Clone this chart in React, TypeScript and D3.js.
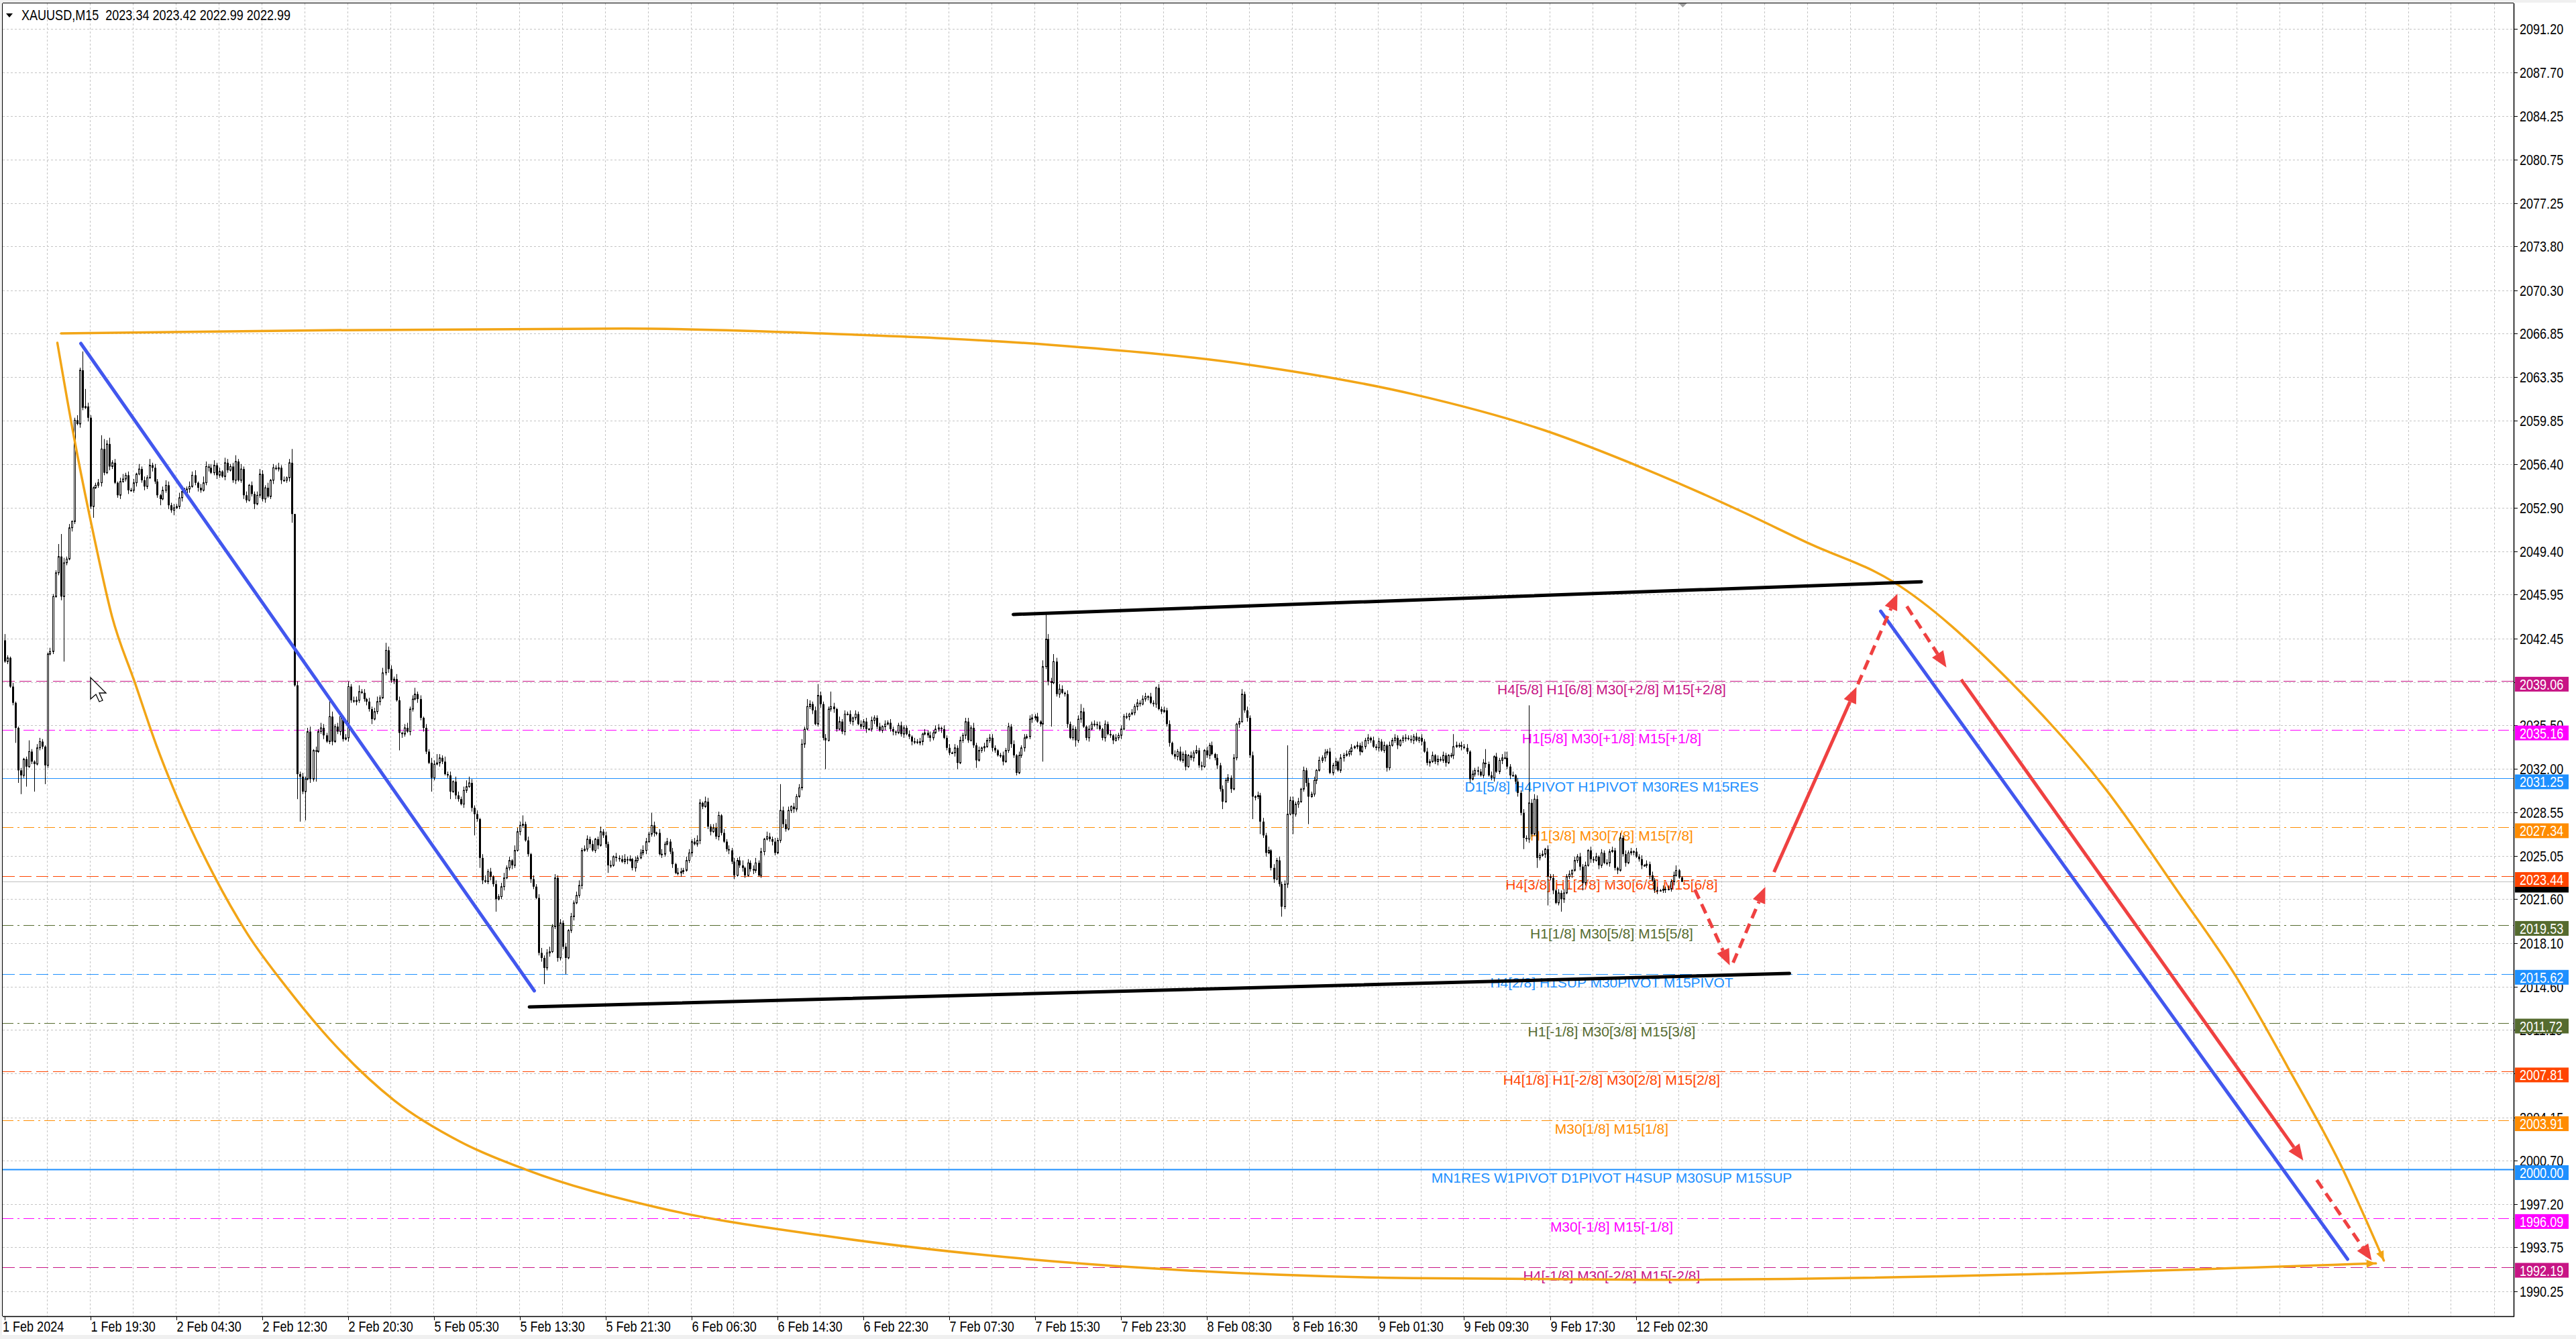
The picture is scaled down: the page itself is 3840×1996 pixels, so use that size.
import React from 'react';
import * as d3 from 'd3';

// ---------------- data ----------------
const symbolHeader = 'XAUUSD,M15  2023.34 2023.42 2022.99 2022.99';
const firstOpen = 2042.3;

// M15 closes, bar 0 .. 625 (16 per row)
const closes: number[] = [
  2040.6, 2040.9, 2038.6, 2037.3, 2035.3, 2031.9, 2031.5, 2032.8, 2032.2, 2033.4, 2032.6, 2032.4, 2033.7, 2034.2, 2033.8, 2032.3,
  2041.2, 2041.4, 2045.8, 2047.7, 2049.0, 2045.8, 2048.5, 2048.8, 2051.3, 2051.8, 2059.9, 2059.6, 2063.9, 2060.9, 2061.0, 2060.1,
  2053.0, 2054.5, 2054.7, 2054.9, 2057.6, 2055.7, 2058.0, 2056.2, 2056.5, 2054.9, 2053.9, 2055.0, 2055.2, 2055.5, 2054.3, 2054.3,
  2054.9, 2055.6, 2056.0, 2055.1, 2054.6, 2055.3, 2056.3, 2056.1, 2055.0, 2053.9, 2053.6, 2054.3, 2054.7, 2053.1, 2052.7, 2052.9,
  2053.0, 2053.7, 2054.2, 2054.1, 2054.4, 2054.6, 2055.5, 2054.9, 2054.5, 2054.3, 2054.9, 2056.2, 2056.1, 2055.7, 2056.3, 2055.5,
  2055.8, 2055.4, 2056.5, 2055.9, 2056.2, 2055.1, 2056.6, 2055.1, 2056.0, 2053.9, 2053.5, 2054.7, 2054.0, 2053.2, 2053.9, 2055.6,
  2053.6, 2054.5, 2053.8, 2055.1, 2056.1, 2056.0, 2056.1, 2055.1, 2055.1, 2055.3, 2056.5, 2052.4, 2038.7, 2031.6, 2031.4, 2030.2,
  2031.2, 2035.0, 2031.2, 2033.5, 2033.4, 2035.0, 2035.3, 2034.7, 2034.2, 2036.2, 2034.2, 2035.4, 2035.0, 2036.2, 2034.4, 2034.5,
  2038.6, 2037.5, 2037.4, 2037.5, 2038.2, 2038.1, 2037.6, 2037.4, 2036.8, 2036.0, 2036.6, 2037.4, 2037.7, 2039.7, 2041.5, 2040.0,
  2039.1, 2039.2, 2037.5, 2034.9, 2034.8, 2035.3, 2035.0, 2036.8, 2037.6, 2038.0, 2037.6, 2036.1, 2035.3, 2033.4, 2032.5, 2031.3,
  2032.4, 2032.5, 2032.9, 2032.6, 2031.6, 2031.5, 2030.2, 2031.0, 2029.9, 2029.6, 2029.2, 2030.3, 2030.6, 2030.9, 2028.9, 2028.4,
  2028.0, 2024.9, 2023.1, 2023.0, 2023.8, 2023.4, 2022.8, 2021.6, 2021.8, 2022.6, 2023.3, 2024.1, 2024.7, 2024.3, 2025.5, 2027.0,
  2027.5, 2027.6, 2026.3, 2025.2, 2023.2, 2022.6, 2021.7, 2017.3, 2016.9, 2016.1, 2017.3, 2017.4, 2019.4, 2023.3, 2016.9, 2019.7,
  2017.8, 2016.9, 2019.1, 2020.2, 2021.3, 2021.9, 2022.7, 2025.5, 2025.6, 2026.4, 2026.0, 2025.5, 2026.4, 2025.9, 2027.0, 2026.7,
  2026.0, 2024.3, 2024.3, 2025.0, 2024.9, 2024.8, 2024.6, 2024.8, 2024.7, 2024.8, 2024.1, 2024.7, 2024.9, 2025.3, 2025.5, 2026.2,
  2026.8, 2027.5, 2026.9, 2026.9, 2025.2, 2025.2, 2026.0, 2026.2, 2025.4, 2024.4, 2023.7, 2023.7, 2023.8, 2023.9, 2024.7, 2025.3,
  2026.2, 2026.0, 2026.3, 2029.3, 2029.0, 2029.4, 2027.4, 2027.0, 2027.3, 2026.6, 2028.3, 2026.9, 2026.2, 2025.6, 2025.5, 2024.6,
  2023.5, 2024.7, 2024.3, 2024.1, 2023.5, 2024.5, 2024.0, 2023.9, 2024.5, 2023.5, 2025.4, 2026.4, 2026.6, 2026.4, 2026.2, 2025.3,
  2026.3, 2028.7, 2027.6, 2027.2, 2028.7, 2029.0, 2028.8, 2029.8, 2030.5, 2034.0, 2035.2, 2037.0, 2037.2, 2036.7, 2035.6, 2037.9,
  2037.2, 2034.5, 2034.3, 2036.8, 2037.0, 2036.8, 2035.2, 2035.8, 2035.0, 2036.4, 2036.4, 2035.8, 2036.1, 2036.4, 2035.6, 2035.4,
  2035.8, 2035.2, 2035.2, 2035.9, 2036.1, 2035.4, 2035.1, 2035.4, 2035.6, 2035.7, 2035.2, 2035.0, 2034.9, 2035.5, 2034.8, 2035.3,
  2034.8, 2034.6, 2034.2, 2034.2, 2034.1, 2034.2, 2034.8, 2034.9, 2034.7, 2034.5, 2034.9, 2035.2, 2035.3, 2035.2, 2034.5, 2033.7,
  2033.3, 2033.3, 2033.7, 2032.5, 2034.3, 2034.7, 2035.8, 2034.3, 2035.3, 2033.9, 2032.7, 2033.5, 2033.7, 2033.8, 2034.3, 2034.5,
  2033.7, 2033.5, 2033.1, 2033.1, 2032.6, 2033.5, 2035.4, 2034.0, 2033.1, 2031.7, 2033.1, 2033.7, 2034.5, 2034.6, 2036.0, 2036.1,
  2036.2, 2035.8, 2035.6, 2040.2, 2042.4, 2039.0, 2038.9, 2040.6, 2038.0, 2038.4, 2038.1, 2038.0, 2035.6, 2034.5, 2035.2, 2034.3,
  2036.0, 2036.6, 2035.4, 2034.5, 2035.2, 2035.6, 2035.6, 2035.5, 2035.2, 2034.5, 2035.6, 2034.8, 2034.7, 2034.3, 2034.5, 2034.7,
  2035.2, 2036.2, 2036.2, 2036.4, 2036.5, 2037.0, 2037.3, 2037.2, 2037.6, 2037.8, 2037.8, 2037.3, 2037.2, 2038.5, 2036.8, 2036.6,
  2036.7, 2035.6, 2034.1, 2033.2, 2033.0, 2033.4, 2032.7, 2033.2, 2032.2, 2033.1, 2032.9, 2033.3, 2033.5, 2032.3, 2032.2, 2033.5,
  2033.1, 2033.9, 2033.2, 2032.9, 2032.3, 2030.4, 2029.4, 2031.1, 2031.3, 2030.4, 2032.9, 2035.6, 2035.8, 2038.0, 2036.7, 2036.1,
  2033.1, 2029.8, 2029.8, 2029.9, 2027.8, 2026.7, 2025.3, 2025.5, 2024.1, 2023.2, 2024.7, 2022.8, 2021.0, 2022.8, 2028.4, 2029.5,
  2028.4, 2029.2, 2029.4, 2030.4, 2031.9, 2030.9, 2029.8, 2030.0, 2031.1, 2031.9, 2032.7, 2032.9, 2033.3, 2033.4, 2031.7, 2032.3,
  2032.6, 2031.9, 2032.9, 2033.1, 2033.2, 2033.4, 2033.7, 2033.8, 2033.9, 2033.4, 2033.8, 2034.3, 2034.5, 2034.3, 2033.8, 2033.7,
  2034.2, 2033.5, 2033.9, 2032.1, 2033.9, 2034.3, 2034.5, 2033.9, 2034.3, 2034.5, 2034.5, 2034.4, 2034.3, 2034.6, 2034.3, 2034.5,
  2034.2, 2033.4, 2032.5, 2032.6, 2033.1, 2032.6, 2032.8, 2032.7, 2033.1, 2032.5, 2033.1, 2033.1, 2033.8, 2033.9, 2033.9, 2033.8,
  2033.7, 2033.4, 2031.2, 2031.6, 2031.9, 2031.8, 2031.5, 2032.5, 2032.4, 2031.5, 2031.3, 2033.0, 2031.8, 2032.7, 2032.9, 2032.9,
  2032.2, 2031.5, 2031.5, 2031.0, 2030.1, 2028.5, 2026.5, 2026.4, 2029.3, 2026.8, 2029.6, 2024.9, 2025.1, 2025.2, 2025.6, 2023.4,
  2023.3, 2022.3, 2021.3, 2022.1, 2021.6, 2022.1, 2023.4, 2023.6, 2023.9, 2024.7, 2025.0, 2024.2, 2022.9, 2024.3, 2025.5, 2024.8,
  2024.7, 2025.0, 2024.3, 2025.3, 2024.5, 2024.5, 2025.4, 2025.5, 2024.1, 2023.9, 2026.5, 2025.2, 2024.5, 2025.3, 2025.4, 2025.4,
  2025.0, 2024.8, 2024.3, 2024.3, 2024.4, 2023.5, 2023.1, 2022.3, 2022.3, 2022.3, 2022.4, 2022.4, 2022.4, 2023.0, 2023.5, 2023.9,
  2023.34, 2022.99,
];

// upper / lower shadow beyond the body, in tenths of a dollar
const wickUpTenths: number[] = [
  5, 2, 1, 3, 1, 1, 2, 1, 2, 9, 2, 1, 3, 3, 2, 1,
  1, 3, 2, 2, 10, 18, 4, 2, 3, 1, 2, 4, 2, 15, 14, 3,
  2, 1, 2, 3, 11, 8, 3, 5, 2, 3, 1, 3, 4, 2, 3, 2,
  3, 1, 4, 2, 3, 2, 5, 2, 3, 2, 1, 3, 4, 3, 2, 3,
  2, 4, 1, 3, 2, 4, 3, 4, 1, 3, 5, 4, 2, 3, 4, 2,
  3, 1, 4, 3, 2, 3, 5, 2, 4, 2, 3, 1, 3, 2, 3, 4,
  3, 2, 4, 1, 3, 2, 4, 2, 3, 1, 3, 11, 0, 3, 2, 3,
  2, 3, 4, 1, 3, 2, 4, 3, 2, 13, 4, 2, 3, 4, 1, 3,
  4, 2, 3, 3, 5, 2, 3, 1, 3, 2, 3, 4, 2, 4, 6, 3,
  3, 2, 4, 3, 1, 3, 4, 2, 3, 5, 2, 3, 1, 3, 2, 4,
  3, 7, 3, 2, 4, 2, 3, 1, 4, 3, 2, 3, 5, 5, 3, 2,
  3, 1, 3, 4, 2, 3, 1, 3, 2, 3, 4, 2, 3, 1, 4, 3,
  3, 7, 2, 3, 1, 3, 2, 3, 4, 2, 3, 4, 2, 3, 2, 3,
  2, 3, 1, 3, 2, 3, 4, 2, 3, 3, 2, 3, 1, 2, 4, 2,
  3, 2, 4, 1, 3, 2, 3, 4, 2, 3, 1, 3, 2, 3, 4, 3,
  2, 10, 3, 1, 3, 4, 2, 3, 2, 3, 1, 4, 3, 2, 3, 3,
  2, 3, 4, 3, 1, 4, 3, 2, 3, 4, 3, 1, 3, 2, 3, 2,
  3, 2, 3, 4, 1, 3, 2, 3, 4, 2, 3, 1, 4, 3, 2, 3,
  2, 21, 3, 4, 3, 1, 3, 2, 3, 4, 2, 6, 3, 2, 3, 9,
  3, 2, 3, 2, 12, 3, 1, 4, 2, 3, 2, 3, 1, 3, 2, 3,
  2, 3, 1, 3, 2, 2, 3, 1, 3, 2, 3, 2, 1, 2, 3, 2,
  2, 3, 1, 3, 2, 3, 1, 3, 2, 3, 2, 3, 3, 1, 3, 2,
  3, 1, 3, 2, 3, 2, 3, 3, 2, 4, 2, 3, 1, 3, 2, 3,
  3, 2, 1, 2, 3, 2, 3, 2, 3, 1, 3, 2, 3, 2, 3, 3,
  2, 3, 1, 5, 20, 4, 3, 6, 3, 4, 3, 1, 3, 2, 3, 2,
  3, 6, 3, 1, 3, 2, 3, 2, 3, 1, 3, 2, 3, 1, 3, 2,
  3, 2, 3, 1, 3, 2, 3, 2, 3, 3, 1, 3, 2, 1, 3, 2,
  3, 2, 3, 1, 3, 2, 4, 2, 3, 1, 3, 2, 4, 2, 3, 1,
  3, 2, 3, 1, 3, 2, 3, 2, 3, 2, 3, 1, 3, 4, 2, 3,
  2, 3, 1, 3, 2, 3, 2, 3, 1, 3, 2, 3, 2, 3, 55, 3,
  3, 2, 3, 1, 3, 2, 4, 2, 3, 1, 3, 2, 3, 2, 3, 2,
  3, 1, 3, 2, 3, 2, 3, 1, 3, 2, 4, 2, 3, 1, 3, 2,
  3, 2, 3, 1, 3, 2, 3, 2, 1, 2, 3, 2, 3, 2, 3, 1,
  3, 2, 3, 2, 3, 1, 3, 2, 3, 2, 1, 2, 10, 3, 2, 3,
  2, 3, 1, 3, 2, 3, 2, 3, 11, 2, 3, 1, 3, 2, 3, 5,
  5, 2, 3, 1, 3, 2, 3, 2, 78, 3, 4, 3, 2, 3, 1, 3,
  2, 3, 1, 3, 2, 3, 2, 3, 1, 3, 2, 3, 2, 3, 1, 3,
  2, 3, 1, 3, 2, 3, 2, 3, 2, 1, 4, 2, 3, 2, 3, 1,
  3, 2, 3, 1, 3, 2, 3, 2, 3, 1, 3, 2, 3, 2, 3, 4,
  1, 1,
];

const wickDnTenths: number[] = [
  1, 2, 1, 2, 12, 10, 15, 2, 16, 1, 2, 22, 1, 2, 2, 15,
  2, 1, 2, 1, 2, 3, 52, 2, 1, 3, 2, 1, 3, 2, 1, 3,
  2, 9, 1, 2, 3, 2, 1, 3, 2, 1, 2, 3, 1, 2, 3, 1,
  2, 3, 1, 2, 3, 2, 1, 3, 2, 2, 5, 1, 2, 3, 2, 4,
  1, 2, 3, 1, 2, 3, 1, 2, 3, 2, 1, 2, 3, 1, 2, 3,
  2, 1, 3, 2, 1, 2, 3, 1, 2, 3, 2, 1, 2, 4, 1, 2,
  2, 3, 1, 2, 3, 1, 2, 3, 1, 2, 3, 7, 1, 20, 36, 2,
  23, 1, 3, 2, 24, 1, 2, 3, 1, 2, 3, 1, 2, 3, 2, 1,
  3, 2, 1, 3, 2, 1, 2, 3, 2, 4, 1, 2, 3, 1, 2, 3,
  2, 3, 1, 14, 3, 2, 1, 3, 2, 1, 3, 2, 3, 2, 1, 11,
  2, 1, 3, 2, 1, 2, 6, 1, 3, 2, 1, 3, 2, 1, 3, 17,
  2, 8, 3, 1, 2, 3, 2, 10, 1, 2, 3, 1, 2, 3, 2, 1,
  3, 2, 1, 2, 3, 2, 1, 2, 3, 13, 2, 3, 1, 2, 3, 2,
  2, 13, 1, 2, 3, 1, 2, 3, 1, 2, 3, 1, 2, 3, 1, 2,
  3, 6, 2, 1, 3, 2, 1, 2, 3, 1, 2, 3, 2, 1, 2, 3,
  1, 2, 3, 2, 1, 3, 2, 1, 2, 3, 1, 2, 3, 2, 1, 2,
  3, 1, 2, 3, 2, 1, 2, 3, 1, 2, 3, 2, 1, 2, 3, 2,
  3, 1, 2, 3, 2, 1, 2, 3, 2, 1, 2, 3, 1, 2, 3, 2,
  1, 2, 3, 2, 1, 2, 3, 2, 1, 2, 3, 1, 2, 3, 1, 2,
  3, 2, 23, 1, 2, 3, 2, 1, 2, 3, 1, 2, 3, 2, 1, 2,
  2, 3, 1, 2, 3, 2, 1, 2, 3, 1, 2, 3, 2, 1, 2, 3,
  1, 2, 3, 2, 1, 2, 3, 1, 2, 3, 2, 1, 2, 3, 1, 2,
  2, 1, 3, 5, 1, 2, 3, 2, 1, 2, 6, 1, 2, 3, 1, 2,
  3, 2, 1, 2, 3, 1, 2, 3, 2, 2, 1, 2, 3, 1, 2, 3,
  2, 1, 2, 30, 2, 3, 35, 1, 2, 3, 1, 2, 3, 1, 2, 5,
  2, 3, 1, 2, 3, 1, 2, 3, 1, 2, 3, 1, 2, 3, 1, 2,
  3, 1, 2, 3, 1, 2, 3, 2, 1, 2, 3, 1, 2, 3, 1, 2,
  1, 2, 3, 1, 2, 3, 1, 2, 3, 1, 2, 3, 1, 2, 3, 1,
  2, 3, 1, 2, 3, 2, 6, 1, 2, 3, 1, 2, 3, 1, 2, 3,
  2, 18, 3, 2, 10, 2, 3, 1, 2, 3, 1, 2, 8, 2, 3, 1,
  16, 2, 3, 1, 2, 3, 22, 1, 2, 3, 1, 2, 3, 2, 1, 2,
  3, 1, 2, 3, 1, 2, 3, 1, 2, 3, 1, 2, 3, 2, 1, 2,
  3, 1, 2, 3, 2, 1, 2, 3, 1, 2, 3, 1, 2, 3, 1, 2,
  3, 1, 2, 3, 1, 2, 3, 1, 2, 3, 1, 2, 3, 1, 2, 3,
  1, 2, 3, 1, 2, 3, 1, 2, 3, 1, 2, 3, 1, 2, 3, 1,
  2, 3, 1, 2, 3, 2, 9, 2, 3, 2, 1, 8, 2, 1, 3, 23,
  2, 3, 1, 2, 10, 3, 1, 2, 3, 1, 2, 3, 6, 2, 1, 3,
  2, 1, 3, 2, 1, 2, 3, 1, 2, 3, 1, 2, 3, 1, 2, 3,
  1, 2, 3, 1, 2, 3, 1, 2, 3, 1, 2, 3, 1, 2, 3, 1,
  1, 0,
];

const currentPrice = 2022.99;

const priceTickLabels = [
  '2091.20', '2087.70', '2084.25', '2080.75', '2077.25', '2073.80', '2070.30', '2066.85', '2063.35', '2059.85',
  '2056.40', '2052.90', '2049.40', '2045.95', '2042.45', '2038.95', '2035.50', '2032.00', '2028.55', '2025.05',
  '2021.60', '2018.10', '2014.60', '2011.15', '2007.65', '2004.15', '2000.70', '1997.20', '1993.75', '1990.25',
];

const dateLabels = [
  '1 Feb 2024', '1 Feb 19:30', '2 Feb 04:30', '2 Feb 12:30', '2 Feb 20:30', '5 Feb 05:30', '5 Feb 13:30',
  '5 Feb 21:30', '6 Feb 06:30', '6 Feb 14:30', '6 Feb 22:30', '7 Feb 07:30', '7 Feb 15:30', '7 Feb 23:30',
  '8 Feb 08:30', '8 Feb 16:30', '9 Feb 01:30', '9 Feb 09:30', '9 Feb 17:30', '12 Feb 02:30',
];
const barsPerDateLabel = 32;

const levelPrices = [2039.06, 2035.16, 2031.25, 2027.34, 2023.44, 2019.53, 2015.62, 2011.72, 2007.81, 2003.91, 2000.0, 1996.09, 1992.19];
const levelNames = [
  'H4[5/8] H1[6/8] M30[+2/8] M15[+2/8]',
  'H1[5/8] M30[+1/8] M15[+1/8]',
  'D1[5/8] H4PIVOT H1PIVOT M30RES M15RES',
  'H1[3/8] M30[7/8] M15[7/8]',
  'H4[3/8] H1[2/8] M30[6/8] M15[6/8]',
  'H1[1/8] M30[5/8] M15[5/8]',
  'H4[2/8] H1SUP M30PIVOT M15PIVOT',
  'H1[-1/8] M30[3/8] M15[3/8]',
  'H4[1/8] H1[-2/8] M30[2/8] M15[2/8]',
  'M30[1/8] M15[1/8]',
  'MN1RES W1PIVOT D1PIVOT H4SUP M30SUP M15SUP',
  'M30[-1/8] M15[-1/8]',
  'H4[-1/8] M30[-2/8] M15[-2/8]',
];
const levelColors = ['#C71585', '#FF00FF', '#1E90FF', '#FF8C00', '#FF4500', '#556B2F', '#1E90FF', '#556B2F', '#FF4500', '#FF8C00', '#1E90FF', '#FF00FF', '#C71585'];
const levelStyles = ['dash', 'dashdot', 'solid', 'dashdot', 'dash', 'dashdot', 'dash', 'dashdot', 'dash', 'dashdot', 'solid', 'dashdot', 'dash'];
const levelLabelBar = 599;

// drawn objects, as [bar index, price]
const orangeTopArc: [number, number][] = [
  [21.15, 2066.84], [120.95, 2067.1], [231.2, 2067.23], [304.6, 2066.84], [390.3, 2065.92], [463.8, 2064.34],
  [525, 2061.98], [574, 2059.09], [610.8, 2056.06], [647.5, 2052.6], [672, 2050.1], [703.75, 2047.0],
  [747.5, 2039.0], [783.25, 2030.36], [810, 2022.21], [831.25, 2015.56], [851, 2008.15], [870.75, 2000.32], [886.75, 1992.7],
];
const orangeBottomArc: [number, number][] = [
  [19.75, 2066.09], [26.05, 2058.43], [33.4, 2050.6], [40.13, 2044.2], [48.52, 2038.99], [56.66, 2033.9],
  [65.24, 2029.3], [78.1, 2023.5], [90.34, 2018.9], [105.64, 2014.42], [120.95, 2010.47], [145.44, 2005.48],
  [169.93, 2002.2], [194.42, 1999.97], [243.4, 1996.94], [304.6, 1994.71], [365.85, 1993.13], [427.08, 1992.08],
  [525.0, 1991.29], [613.5, 1991.16], [883.8, 1992.47],
];
const blueTrendLines: [number, number][][] = [
  [[28.5, 2066.04], [197.5, 2014.27]],
  [[699.25, 2044.63], [873.25, 1992.81]],
];
const blackTrendLines: [number, number][][] = [
  [[376, 2044.37], [714.4, 2046.98]],
  [[195.65, 2012.98], [665.25, 2015.66]],
];
const redArrowFrom: [number, number][] = [[630, 2022.37], [644.25, 2016.52], [659.5, 2023.76], [690.75, 2038.79], [709, 2045.01], [729.25, 2039.16], [861.75, 1999.14]];
const redArrowTo: [number, number][] = [[643, 2016.31], [656.25, 2022.58], [690.25, 2038.57], [705.5, 2046.03], [723.75, 2040.13], [856.75, 2000.7], [882.25, 1992.7]];
const redArrowDashed = [true, true, false, true, true, false, true];
const cursorAt: [number, number] = [32, 2039.3];

// ---------------- layout ----------------
const W = 3840;
const H = 1996;
const plotL = 4;
const plotT = 5;
const plotR = 3747;
const plotB = 1962;

const xScale = d3.scaleLinear().domain([0, 935]).range([6.5, 6.5 + 4 * 935]);
const yScale = d3.scaleLinear().domain([2091.2, 1990.25]).range([43, 43 + 100.95 * 18.64]);

const ARIAL = "'Liberation Sans', Arial, sans-serif";

const dashFor = (s: string) => (s === 'dash' ? '18,7' : s === 'dashdot' ? '16,6,3,6' : undefined);

// narrow (condensed) UI text, like the terminal's axis font
function NText({ x, y, fill = '#000', children }: any) {
  return (
    <text transform={`translate(${x},${y}) scale(0.82,1)`} fontFamily={ARIAL} fontSize={22} fill={fill} style={{ whiteSpace: 'pre' }}>
      {children}
    </text>
  );
}

function Arrow({ x1, y1, x2, y2, color, width, dashed, headLen, headW }: any) {
  const ang = Math.atan2(y2 - y1, x2 - x1);
  const bx = x2 - headLen * Math.cos(ang);
  const by = y2 - headLen * Math.sin(ang);
  const px = -Math.sin(ang) * headW;
  const py = Math.cos(ang) * headW;
  return (
    <g>
      <line x1={x1} y1={y1} x2={bx} y2={by} stroke={color} strokeWidth={width} strokeDasharray={dashed ? '15,9' : undefined} />
      <polygon points={`${x2},${y2} ${bx + px},${by + py} ${bx - px},${by - py}`} fill={color} />
    </g>
  );
}

function CurveArrow({ pts, color }: { pts: [number, number][]; color: string }) {
  const line = d3
    .line<[number, number]>()
    .x((d) => xScale(d[0]))
    .y((d) => yScale(d[1]))
    .curve(d3.curveMonotoneX);
  const n = pts.length;
  const x2 = xScale(pts[n - 1][0]);
  const y2 = yScale(pts[n - 1][1]);
  const x1 = xScale(pts[n - 2][0]);
  const y1 = yScale(pts[n - 2][1]);
  const ang = Math.atan2(y2 - y1, x2 - x1);
  const hl = 14;
  const hw = 6;
  const bx = x2 - hl * Math.cos(ang);
  const by = y2 - hl * Math.sin(ang);
  const px = -Math.sin(ang) * hw;
  const py = Math.cos(ang) * hw;
  return (
    <g>
      <path d={line(pts) || ''} fill="none" stroke={color} strokeWidth={3.5} strokeLinecap="round" />
      <polygon points={`${x2},${y2} ${bx + px},${by + py} ${bx - px},${by - py}`} fill={color} />
    </g>
  );
}

export default function App() {
  const bars = closes.map((c, i) => {
    const o = i === 0 ? firstOpen : closes[i - 1];
    const h = Math.max(o, c) + wickUpTenths[i] / 10;
    const l = Math.min(o, c) - wickDnTenths[i] / 10;
    return { i, o, h, l, c };
  });

  const gridXs: number[] = [];
  for (let b = 16; b < 935; b += 16) gridXs.push(Math.round(xScale(b)) - 0.5);

  const curY = yScale(currentPrice);

  return (
    <svg width={W} height={H} style={{ position: 'absolute', left: 0, top: 0, display: 'block' }} xmlns="http://www.w3.org/2000/svg">
      <rect x={0} y={0} width={W} height={H} fill="#ffffff" />
      <rect x={0} y={0} width={W} height={4} fill="#f0f0f0" />
      <rect x={0} y={0} width={3} height={H} fill="#f0f0f0" />
      <rect x={0} y={1990} width={W} height={6} fill="#f0f0f0" />

      {/* grid */}
      <g stroke="#c4c4c4" strokeWidth={1} strokeDasharray="3,3">
        {gridXs.map((x, k) => (
          <line key={'gx' + k} x1={x} x2={x} y1={plotT} y2={plotB} />
        ))}
        {priceTickLabels.map((t, k) => {
          const y = Math.round(yScale(parseFloat(t))) + 0.5;
          return <line key={'gy' + k} x1={plotL} x2={plotR} y1={y} y2={y} />;
        })}
      </g>

      {/* murrey / pivot levels */}
      {levelPrices.map((p, k) => {
        const y = Math.round(yScale(p)) + 0.5;
        return (
          <g key={'lv' + k}>
            <line x1={plotL} x2={plotR} y1={y} y2={y} stroke={levelColors[k]} strokeWidth={p === 2000 ? 2 : 1} strokeDasharray={dashFor(levelStyles[k])} />
            <text x={xScale(levelLabelBar)} y={y + 19} textAnchor="middle" fontFamily={ARIAL} fontSize={21} fill={levelColors[k]}>
              {levelNames[k]}
            </text>
          </g>
        );
      })}

      {/* current bid line */}
      <line x1={plotL} x2={plotR} y1={Math.round(curY) + 0.5} y2={Math.round(curY) + 0.5} stroke="#c0c0c0" strokeWidth={1} />

      {/* candles */}
      <g>
        {bars.map((b) => {
          const cx = Math.round(xScale(b.i)) + 0.5;
          const yo = yScale(b.o);
          const yc = yScale(b.c);
          const top = Math.min(yo, yc);
          const bot = Math.max(yo, yc);
          const up = b.c >= b.o;
          return (
            <g key={'c' + b.i}>
              <line x1={cx} x2={cx} y1={yScale(b.h)} y2={yScale(b.l)} stroke="#000" strokeWidth={1} />
              {up ? (
                <rect x={cx - 1} y={top} width={2} height={Math.max(bot - top, 1)} fill="#fff" stroke="#000" strokeWidth={1} />
              ) : (
                <rect x={cx - 1.5} y={top} width={3} height={Math.max(bot - top, 1)} fill="#000" />
              )}
            </g>
          );
        })}
      </g>

      {/* drawn objects */}
      <CurveArrow pts={orangeTopArc} color="#F2A516" />
      <CurveArrow pts={orangeBottomArc} color="#F2A516" />
      {blackTrendLines.map((l, k) => (
        <line key={'bk' + k} x1={xScale(l[0][0])} y1={yScale(l[0][1])} x2={xScale(l[1][0])} y2={yScale(l[1][1])} stroke="#000" strokeWidth={5} strokeLinecap="round" />
      ))}
      {blueTrendLines.map((l, k) => (
        <line key={'bl' + k} x1={xScale(l[0][0])} y1={yScale(l[0][1])} x2={xScale(l[1][0])} y2={yScale(l[1][1])} stroke="#4257EE" strokeWidth={5} strokeLinecap="round" />
      ))}
      {redArrowFrom.map((f, k) => (
        <Arrow
          key={'ra' + k}
          x1={xScale(f[0])}
          y1={yScale(f[1])}
          x2={xScale(redArrowTo[k][0])}
          y2={yScale(redArrowTo[k][1])}
          color="#EF4141"
          width={5}
          dashed={redArrowDashed[k]}
          headLen={24}
          headW={10}
        />
      ))}

      {/* mouse cursor */}
      <g transform={`translate(${Math.round(xScale(cursorAt[0]))},${Math.round(yScale(cursorAt[1]))})`}>
        <polygon points="0,0 0,32 8,25 13,36 18,34 13,23 23,23" fill="#fff" stroke="#000" strokeWidth={1.3} />
      </g>

      {/* frame */}
      <line x1={plotL - 0.5} x2={plotL - 0.5} y1={plotT} y2={plotB} stroke="#000" strokeWidth={1} />
      <line x1={plotL} x2={plotR} y1={plotT - 0.5} y2={plotT - 0.5} stroke="#000" strokeWidth={1} />
      <line x1={plotR + 0.5} x2={plotR + 0.5} y1={plotT} y2={plotB + 1} stroke="#000" strokeWidth={1.5} />
      <line x1={plotL} x2={plotR + 1} y1={plotB + 0.5} y2={plotB + 0.5} stroke="#000" strokeWidth={1.5} />

      {/* chart-shift marker */}
      <polygon
        points={`${xScale(625.5) - 6},${plotT} ${xScale(625.5) + 6},${plotT} ${xScale(625.5)},${plotT + 6}`}
        fill="#a0a0a0"
      />

      {/* price axis */}
      {priceTickLabels.map((t, k) => {
        const y = yScale(parseFloat(t));
        return (
          <g key={'pt' + k}>
            <line x1={plotR + 1} x2={plotR + 6} y1={Math.round(y) + 0.5} y2={Math.round(y) + 0.5} stroke="#000" />
            <NText x={3756} y={y + 8}>
              {t}
            </NText>
          </g>
        );
      })}
      {/* current price marker (mostly hidden) */}
      <rect x={3749} y={curY - 6} width={80} height={22} fill="#000" />
      {levelPrices.map((p, k) => {
        const y = yScale(p);
        return (
          <g key={'pb' + k}>
            <rect x={3749} y={y - 6} width={80} height={22} fill={levelColors[k]} />
            <NText x={3756} y={y + 13} fill="#fff">
              {p.toFixed(2)}
            </NText>
          </g>
        );
      })}

      {/* time axis */}
      {dateLabels.map((d, k) => {
        const x = Math.round(xScale(k * barsPerDateLabel)) + 0.5;
        return (
          <g key={'dl' + k}>
            <line x1={x} x2={x} y1={plotB} y2={plotB + 6} stroke="#000" />
            <NText x={k === 0 ? 4 : x} y={1985}>
              {d}
            </NText>
          </g>
        );
      })}

      {/* header */}
      <polygon points="9,20 19,20 14,26" fill="#000" />
      <NText x={32} y={30}>
        {symbolHeader}
      </NText>
    </svg>
  );
}
